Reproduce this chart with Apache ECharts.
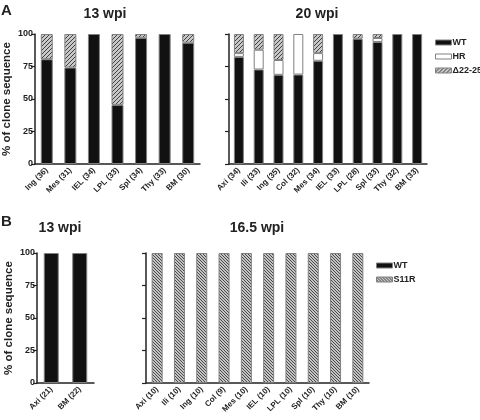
<!DOCTYPE html>
<html><head><meta charset="utf-8">
<script src="https://cdn.jsdelivr.net/npm/echarts@6/dist/echarts.min.js"></script>
<style>html,body{margin:0;padding:0;background:#fff}#c{width:480px;height:420px}</style>
</head><body><div id="c"></div>
<script>
// ---- data ----
const yTicks = [0, 25, 50, 75, 100];
const a13Cats = ['Ing (36)','Mes (31)','IEL (34)','LPL (33)','Spl (34)','Thy (33)','BM (30)'];
const a13WT   = [80.6, 74.2, 100, 45.5, 97.1, 100, 93.3];
const a13HR   = [0, 0, 0, 0, 0, 0, 0];
const a13Del  = [19.4, 25.8, 0, 54.5, 2.9, 0, 6.7];

const a20Cats = ['Axi (34)','Ili (33)','Ing (35)','Col (32)','Mes (34)','IEL (33)','LPL (28)','Spl (33)','Thy (32)','BM (33)'];
const a20WT   = [82.4, 72.7, 68.6, 68.8, 79.4, 100, 96.4, 93.9, 100, 100];
const a20HR   = [2.9, 15.2, 11.4, 31.2, 5.9, 0, 0, 3.0, 0, 0];
const a20Del  = [14.7, 12.1, 20.0, 0, 14.7, 0, 3.6, 3.1, 0, 0];

const b13Cats = ['Axi (21)','BM (22)'];
const b13WT   = [100, 100];
const b13S11R = [0, 0];

const b16Cats = ['Axi (10)','Ili (10)','Ing (10)','Col (9)','Mes (10)','IEL (10)','LPL (10)','Spl (10)','Thy (10)','BM (10)'];
const b16WT   = [0, 0, 0, 0, 0, 0, 0, 0, 0, 0];
const b16S11R = [100, 100, 100, 100, 100, 100, 100, 100, 100, 100];

// ---- patterns ----
function hatch(dir, bg, fg, size) {
  const c = document.createElement('canvas');
  c.width = size; c.height = size;
  const g = c.getContext('2d');
  g.fillStyle = bg; g.fillRect(0, 0, size, size);
  g.strokeStyle = fg; g.lineWidth = 1;
  g.beginPath();
  if (dir > 0) {
    g.moveTo(0, size); g.lineTo(size, 0);
    g.moveTo(-size, size); g.lineTo(size, -size);
    g.moveTo(0, 2*size); g.lineTo(2*size, 0);
  } else {
    g.moveTo(0, 0); g.lineTo(size, size);
    g.moveTo(-size, 0); g.lineTo(size, 2*size);
    g.moveTo(0, -size); g.lineTo(2*size, size);
  }
  g.stroke();
  return { image: c, repeat: 'repeat' };
}
const delPat = hatch(1, '#c8c8c8', '#404040', 4);
const s11Pat = hatch(-1, '#c4c4c4', '#4a4a4a', 3);

const FONT = 'Liberation Sans, Arial, sans-serif';
const nz = a => a.map(v => v === 0 ? '-' : v);

const grids = [
  { left: 34, top: 34, width: 166, height: 130 },
  { left: 229, top: 34, width: 198, height: 130 },
  { left: 37, top: 253, width: 57, height: 130 },
  { left: 146, top: 253, width: 223, height: 130 }
];
const cats = [a13Cats, a20Cats, b13Cats, b16Cats];

const xAxes = cats.map((c, i) => ({
  type: 'category', gridIndex: i, data: c,
  axisLine: { lineStyle: { color: '#222', width: 1.5 } },
  axisTick: { show: false },
  axisLabel: { rotate: 45, margin: 5, fontSize: 8, fontWeight: 'bold', color: '#222', fontFamily: FONT, interval: 0 }
}));
const yAxes = [0,1,2,3].map(i => ({
  type: 'value', gridIndex: i, min: 0, max: 100, interval: 25,
  splitLine: { show: false },
  axisLine: { show: true, lineStyle: { color: '#222', width: 1.5 } },
  axisTick: { show: true, length: 4, lineStyle: { color: '#222', width: 1.2 } },
  axisLabel: { show: i === 0 || i === 2, margin: 2, fontSize: 9, fontWeight: 'bold', color: '#222', fontFamily: FONT },
  name: (i === 0 || i === 2) ? '% of clone sequence' : '',
  nameLocation: 'middle', nameGap: 22,
  nameTextStyle: { fontSize: 11.5, fontWeight: 'bold', color: '#222', fontFamily: FONT }
}));

const border = { borderColor: '#808080', borderWidth: 1 };
function bar(name, data, gi, stack, color, bw) {
  return { type: 'bar', name, data: nz(data), xAxisIndex: gi, yAxisIndex: gi, stack,
    barWidth: bw, itemStyle: Object.assign({ color }, border), animation: false, emphasis: { disabled: true } };
}

const series = [
  bar('WT', a13WT, 0, 'a', '#111', 12),
  bar('HR', a13HR, 0, 'a', '#fff', 12),
  bar('Δ22-25', a13Del, 0, 'a', delPat, 12),
  bar('WT', a20WT, 1, 'b', '#111', 10),
  bar('HR', a20HR, 1, 'b', '#fff', 10),
  bar('Δ22-25', a20Del, 1, 'b', delPat, 10),
  bar('WT', b13WT, 2, 'c', '#111', 15),
  bar('S11R', b13S11R, 2, 'c', s11Pat, 15),
  bar('WT', b16WT, 3, 'd', '#111', 11),
  bar('S11R', b16S11R, 3, 'd', s11Pat, 11)
];

const legendBase = {
  orient: 'vertical', itemWidth: 16, itemHeight: 5, itemGap: 5,
  selectedMode: false, icon: 'rect',
  textStyle: { fontSize: 9, fontWeight: 'bold', color: '#222', fontFamily: FONT, padding: [0,0,0,-4] },
  itemStyle: { borderColor: '#808080', borderWidth: 1 }
};

const txt = (t, x, y, size, align) => ({
  type: 'text', x, y, silent: true,
  style: { text: t, fontSize: size, fontWeight: 'bold', fill: '#222', fontFamily: FONT, align: align || 'center', verticalAlign: 'middle' }
});

const chart = echarts.init(document.getElementById('c'), null, { renderer: 'canvas' });
chart.setOption({
  backgroundColor: '#fff',
  animation: false,
  grid: grids,
  xAxis: xAxes,
  yAxis: yAxes,
  series,
  legend: [
    Object.assign({ left: 430, top: 33, data: ['WT','HR','Δ22-25'] }, legendBase),
    Object.assign({ left: 371, top: 256, data: ['WT','S11R'] }, legendBase)
  ],
  graphic: [
    txt('A', 1, 11, 15, 'left'),
    txt('13 wpi', 105, 14, 14),
    txt('20 wpi', 317, 14, 14),
    txt('B', 1, 222, 15, 'left'),
    txt('13 wpi', 60, 228, 14),
    txt('16.5 wpi', 257, 228, 14)
  ]
});
</script></body></html>
